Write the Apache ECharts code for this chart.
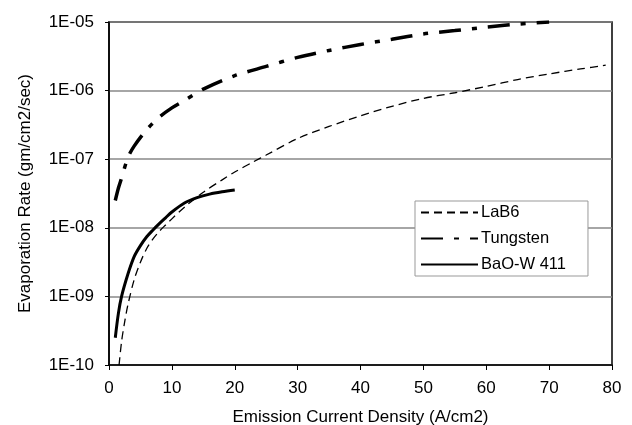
<!DOCTYPE html>
<html>
<head>
<meta charset="utf-8">
<script src="https://cdn.jsdelivr.net/npm/echarts@6/dist/echarts.min.js"></script>
<style>
  html, body { margin: 0; padding: 0; background: #fff; }
  #chart { width: 632px; height: 425px; }
</style>
</head>
<body>
<div id="chart"></div>
<script>
// Evaporation rate vs. emission current density for three cathode materials
const lab6 = [
  [1.6, 1.0e-10], [2, 2.2e-10], [2.5, 4.3e-10], [3, 7.5e-10], [4, 1.75e-9],
  [5, 3.15e-9], [6, 5.0e-9], [7, 6.9e-9], [8, 8.9e-9], [9, 1.1e-8],
  [10, 1.35e-8], [12, 2.0e-8], [15, 3.3e-8], [18, 5.0e-8], [20, 6.5e-8],
  [23, 9.2e-8], [25, 1.15e-7], [30, 2.0e-7], [35, 3.0e-7], [40, 4.3e-7],
  [45, 5.9e-7], [50, 7.7e-7], [55, 9.3e-7], [60, 1.15e-6], [65, 1.45e-6],
  [70, 1.75e-6], [75, 2.07e-6], [79, 2.35e-6]
];
const tungsten = [
  [1, 2.5e-8], [1.5, 3.8e-8], [2, 5.3e-8], [3, 1.05e-7], [4, 1.55e-7],
  [6, 2.7e-7], [8, 4.1e-7], [10, 5.6e-7], [12, 7.2e-7], [15, 1.05e-6],
  [20, 1.65e-6], [25, 2.25e-6], [30, 3.05e-6], [35, 3.85e-6], [40, 4.7e-6],
  [45, 5.6e-6], [50, 6.7e-6], [55, 7.5e-6], [60, 8.4e-6], [65, 9.3e-6],
  [70, 1.0e-5]
];
const baoW411 = [
  [1, 2.5e-10], [1.5, 5.7e-10], [2, 1.0e-9], [3, 2.1e-9], [4, 3.8e-9],
  [5, 5.5e-9], [6, 7.4e-9], [7, 9.3e-9], [8, 1.15e-8], [9, 1.4e-8],
  [10, 1.7e-8], [12, 2.3e-8], [14, 2.75e-8], [16, 3.1e-8], [18, 3.35e-8],
  [20, 3.55e-8]
];
const seriesNames = ['LaB6', 'Tungsten', 'BaO-W 411'];
const yTickLabels = ['1E-10', '1E-09', '1E-08', '1E-07', '1E-06', '1E-05'];

const FONT = 'Liberation Sans, Arial, Helvetica, sans-serif';

const chart = echarts.init(document.getElementById('chart'), null, { renderer: 'canvas' });
chart.setOption({
  backgroundColor: '#fff',
  animation: false,
  grid: {
    left: 109, right: 20, top: 22, bottom: 60,
    containLabel: false, outerBoundsMode: 'none',
    show: true, borderColor: '#000', borderWidth: 1.5
  },
  legend: {
    left: 415, top: 201,
    orient: 'vertical',
    data: seriesNames,
    itemWidth: 57, itemHeight: 14, itemGap: 9,
    padding: [3, 22, 3, 5],
    borderColor: '#999', borderWidth: 1, borderRadius: 0,
    backgroundColor: '#fff',
    itemStyle: { color: 'transparent', borderWidth: 0, opacity: 0 },
    textStyle: { fontFamily: FONT, fontSize: 16.5, color: '#000', padding: [0, 0, 0, -2] }
  },
  xAxis: {
    type: 'value', min: 0, max: 80, interval: 10,
    name: 'Emission Current Density (A/cm2)',
    nameLocation: 'middle', nameGap: 44,
    nameTextStyle: { fontFamily: FONT, fontSize: 17, color: '#000' },
    axisLine: { lineStyle: { color: '#000', width: 1.5 } },
    axisTick: { show: true, length: 5, lineStyle: { color: '#000', width: 1 } },
    axisLabel: { fontFamily: FONT, fontSize: 17, color: '#000', margin: 15 },
    splitLine: { show: false }
  },
  yAxis: {
    type: 'log', logBase: 10, min: 1e-10, max: 1e-5,
    name: 'Evaporation Rate (gm/cm2/sec)',
    nameLocation: 'middle', nameGap: 75,
    nameTextStyle: { fontFamily: FONT, fontSize: 17, color: '#000' },
    axisLine: { show: true, lineStyle: { color: '#000', width: 1.5 } },
    axisTick: { show: true, length: 4, lineStyle: { color: '#000', width: 1 } },
    axisLabel: {
      fontFamily: FONT, fontSize: 17, color: '#000', margin: 15,
      formatter: function (v) {
        const i = Math.round(Math.log10(v)) + 10;
        return yTickLabels[i] !== undefined ? yTickLabels[i] : '';
      }
    },
    splitLine: { show: true, lineStyle: { color: '#888', width: 1.5 } },
    minorSplitLine: { show: false }
  },
  series: [
    {
      name: seriesNames[0], type: 'line', data: lab6, smooth: 0.3,
      showSymbol: false, symbol: 'none', clip: true,
      itemStyle: { color: '#000' },
      lineStyle: { color: '#000', width: 1.3, type: [8, 5] }
    },
    {
      name: seriesNames[1], type: 'line', data: tungsten, smooth: 0.3,
      showSymbol: false, symbol: 'none', clip: true,
      itemStyle: { color: '#000' },
      lineStyle: { color: '#000', width: 3.5, type: [22, 11, 5, 11] }
    },
    {
      name: seriesNames[2], type: 'line', data: baoW411, smooth: 0.3,
      showSymbol: false, symbol: 'none', clip: true,
      itemStyle: { color: '#000' },
      lineStyle: { color: '#000', width: 3 }
    }
  ]
});
</script>
</body>
</html>
